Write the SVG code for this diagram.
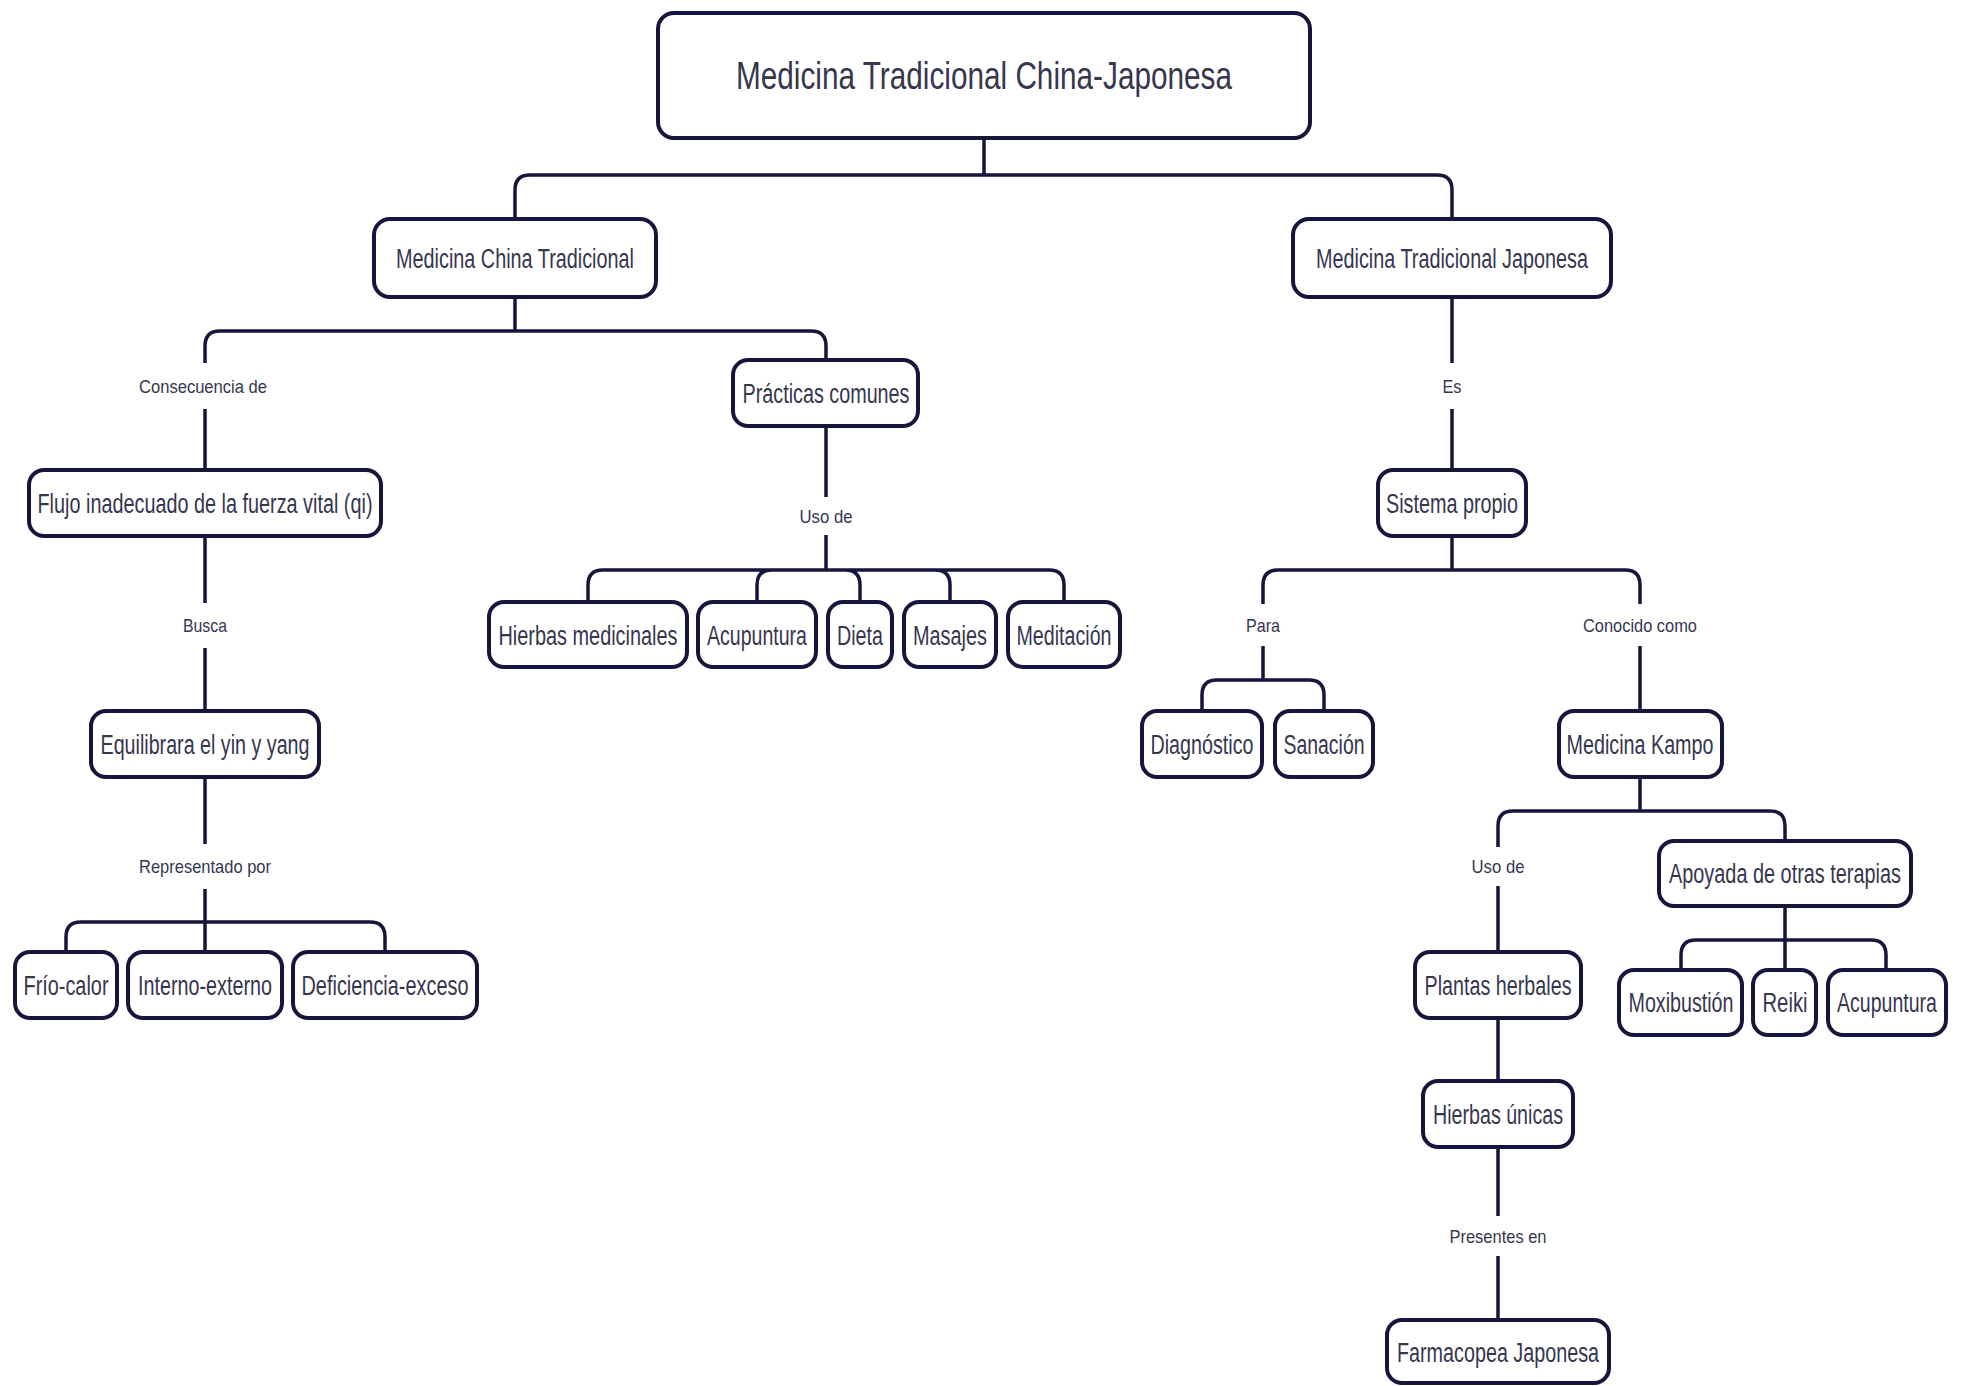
<svg xmlns="http://www.w3.org/2000/svg" width="1965" height="1386" viewBox="0 0 1965 1386">
<style>
.box{fill:#fff;stroke:#16163c;stroke-width:4}
.c{fill:none;stroke:#16163c;stroke-width:3.5;stroke-linecap:butt}
.t{font-family:"Liberation Sans",Arial,sans-serif;font-size:27px;fill:#36364f;text-anchor:middle;dominant-baseline:central}
.r{font-size:38px}
.l{font-family:"Liberation Sans",Arial,sans-serif;font-size:19px;fill:#36364f;text-anchor:middle;dominant-baseline:central}
</style>
<rect width="1965" height="1386" fill="#fff"/>
<g id="connectors">
<path class="c" d="M984,138 V175 M984,175 H530 Q515,175 515,190 V219 M984,175 H1437 Q1452,175 1452,190 V219"/>
<path class="c" d="M515,297 V331 M515,331 H220 Q205,331 205,346 V363 M205,409 V470 M515,331 H811 Q826,331 826,346 V360"/>
<path class="c" d="M205,536 V603 M205,648 V711"/>
<path class="c" d="M205,777 V844 M205,889 V952 M205,922 H81 Q66,922 66,937 V952 M205,922 H370 Q385,922 385,937 V952"/>
<path class="c" d="M826,426 V497 M826,535 V570 M826,570 H603 Q588,570 588,585 V602 M826,570 H772 Q757,570 757,585 V602 M826,570 H845 Q860,570 860,585 V602 M826,570 H935 Q950,570 950,585 V602 M826,570 H1049 Q1064,570 1064,585 V602"/>
<path class="c" d="M1452,297 V363 M1452,409 V470"/>
<path class="c" d="M1452,536 V570 M1452,570 H1278 Q1263,570 1263,585 V604 M1263,646 V680 M1263,680 H1217 Q1202,680 1202,695 V711 M1263,680 H1309 Q1324,680 1324,695 V711 M1452,570 H1625 Q1640,570 1640,585 V604 M1640,646 V711"/>
<path class="c" d="M1640,777 V811 M1640,811 H1513 Q1498,811 1498,826 V847 M1498,886 V952 M1640,811 H1770 Q1785,811 1785,826 V841"/>
<path class="c" d="M1785,906 V970 M1785,940 H1696 Q1681,940 1681,955 V970 M1785,940 H1871 Q1886,940 1886,955 V970"/>
<path class="c" d="M1498,1018 V1081 M1498,1147 V1216 M1498,1256 V1320"/>
<text class="l" x="203" y="386" textLength="128" lengthAdjust="spacingAndGlyphs">Consecuencia de</text>
<text class="l" x="205" y="625" textLength="44" lengthAdjust="spacingAndGlyphs">Busca</text>
<text class="l" x="205" y="866" textLength="132" lengthAdjust="spacingAndGlyphs">Representado por</text>
<text class="l" x="826" y="516" textLength="53" lengthAdjust="spacingAndGlyphs">Uso de</text>
<text class="l" x="1452" y="386" textLength="19" lengthAdjust="spacingAndGlyphs">Es</text>
<text class="l" x="1263" y="625" textLength="34" lengthAdjust="spacingAndGlyphs">Para</text>
<text class="l" x="1640" y="625" textLength="114" lengthAdjust="spacingAndGlyphs">Conocido como</text>
<text class="l" x="1498" y="866" textLength="53" lengthAdjust="spacingAndGlyphs">Uso de</text>
<text class="l" x="1498" y="1236" textLength="97" lengthAdjust="spacingAndGlyphs">Presentes en</text>
</g>
<g id="n-root"><rect class="box" x="658" y="13" width="652" height="125" rx="16"/><text class="t r" x="984" y="76" textLength="496" lengthAdjust="spacingAndGlyphs">Medicina Tradicional China-Japonesa</text></g>
<g id="n-mct"><rect class="box" x="374" y="219" width="282" height="78" rx="16"/><text class="t" x="515" y="259" textLength="238" lengthAdjust="spacingAndGlyphs">Medicina China Tradicional</text></g>
<g id="n-mtj"><rect class="box" x="1293" y="219" width="318" height="78" rx="16"/><text class="t" x="1452" y="259" textLength="272" lengthAdjust="spacingAndGlyphs">Medicina Tradicional Japonesa</text></g>
<g id="n-practicas"><rect class="box" x="733" y="360" width="185" height="66" rx="15"/><text class="t" x="826" y="394" textLength="167" lengthAdjust="spacingAndGlyphs">Prácticas comunes</text></g>
<g id="n-flujo"><rect class="box" x="29" y="470" width="352" height="66" rx="15"/><text class="t" x="205" y="504" textLength="335" lengthAdjust="spacingAndGlyphs">Flujo inadecuado de la fuerza vital (qi)</text></g>
<g id="n-equilibrar"><rect class="box" x="91" y="711" width="228" height="66" rx="15"/><text class="t" x="205" y="745" textLength="209" lengthAdjust="spacingAndGlyphs">Equilibrara el yin y yang</text></g>
<g id="n-frio"><rect class="box" x="15" y="952" width="102" height="66" rx="15"/><text class="t" x="66" y="986" textLength="85" lengthAdjust="spacingAndGlyphs">Frío-calor</text></g>
<g id="n-interno"><rect class="box" x="128" y="952" width="154" height="66" rx="15"/><text class="t" x="205" y="986" textLength="134" lengthAdjust="spacingAndGlyphs">Interno-externo</text></g>
<g id="n-deficiencia"><rect class="box" x="293" y="952" width="184" height="66" rx="15"/><text class="t" x="385" y="986" textLength="167" lengthAdjust="spacingAndGlyphs">Deficiencia-exceso</text></g>
<g id="n-hierbasmed"><rect class="box" x="489" y="602" width="198" height="65" rx="15"/><text class="t" x="588" y="636" textLength="179" lengthAdjust="spacingAndGlyphs">Hierbas medicinales</text></g>
<g id="n-acupuntura1"><rect class="box" x="698" y="602" width="118" height="65" rx="15"/><text class="t" x="757" y="636" textLength="100" lengthAdjust="spacingAndGlyphs">Acupuntura</text></g>
<g id="n-dieta"><rect class="box" x="828" y="602" width="64" height="65" rx="15"/><text class="t" x="860" y="636" textLength="46" lengthAdjust="spacingAndGlyphs">Dieta</text></g>
<g id="n-masajes"><rect class="box" x="904" y="602" width="92" height="65" rx="15"/><text class="t" x="950" y="636" textLength="74" lengthAdjust="spacingAndGlyphs">Masajes</text></g>
<g id="n-meditacion"><rect class="box" x="1008" y="602" width="112" height="65" rx="15"/><text class="t" x="1064" y="636" textLength="95" lengthAdjust="spacingAndGlyphs">Meditación</text></g>
<g id="n-sistema"><rect class="box" x="1378" y="470" width="148" height="66" rx="15"/><text class="t" x="1452" y="504" textLength="132" lengthAdjust="spacingAndGlyphs">Sistema propio</text></g>
<g id="n-diagnostico"><rect class="box" x="1142" y="711" width="120" height="66" rx="15"/><text class="t" x="1202" y="745" textLength="103" lengthAdjust="spacingAndGlyphs">Diagnóstico</text></g>
<g id="n-sanacion"><rect class="box" x="1275" y="711" width="98" height="66" rx="15"/><text class="t" x="1324" y="745" textLength="81" lengthAdjust="spacingAndGlyphs">Sanación</text></g>
<g id="n-kampo"><rect class="box" x="1559" y="711" width="163" height="66" rx="15"/><text class="t" x="1640" y="745" textLength="147" lengthAdjust="spacingAndGlyphs">Medicina Kampo</text></g>
<g id="n-apoyada"><rect class="box" x="1659" y="841" width="252" height="65" rx="15"/><text class="t" x="1785" y="874" textLength="232" lengthAdjust="spacingAndGlyphs">Apoyada de otras terapias</text></g>
<g id="n-plantas"><rect class="box" x="1415" y="952" width="166" height="66" rx="15"/><text class="t" x="1498" y="986" textLength="147" lengthAdjust="spacingAndGlyphs">Plantas herbales</text></g>
<g id="n-moxibustion"><rect class="box" x="1619" y="970" width="123" height="65" rx="15"/><text class="t" x="1681" y="1003" textLength="105" lengthAdjust="spacingAndGlyphs">Moxibustión</text></g>
<g id="n-reiki"><rect class="box" x="1753" y="970" width="63" height="65" rx="15"/><text class="t" x="1785" y="1003" textLength="45" lengthAdjust="spacingAndGlyphs">Reiki</text></g>
<g id="n-acupuntura2"><rect class="box" x="1828" y="970" width="118" height="65" rx="15"/><text class="t" x="1887" y="1003" textLength="100" lengthAdjust="spacingAndGlyphs">Acupuntura</text></g>
<g id="n-hierbasunicas"><rect class="box" x="1423" y="1081" width="150" height="66" rx="15"/><text class="t" x="1498" y="1115" textLength="130" lengthAdjust="spacingAndGlyphs">Hierbas únicas</text></g>
<g id="n-farmacopea"><rect class="box" x="1387" y="1320" width="222" height="63" rx="15"/><text class="t" x="1498" y="1353" textLength="202" lengthAdjust="spacingAndGlyphs">Farmacopea Japonesa</text></g>
</svg>
